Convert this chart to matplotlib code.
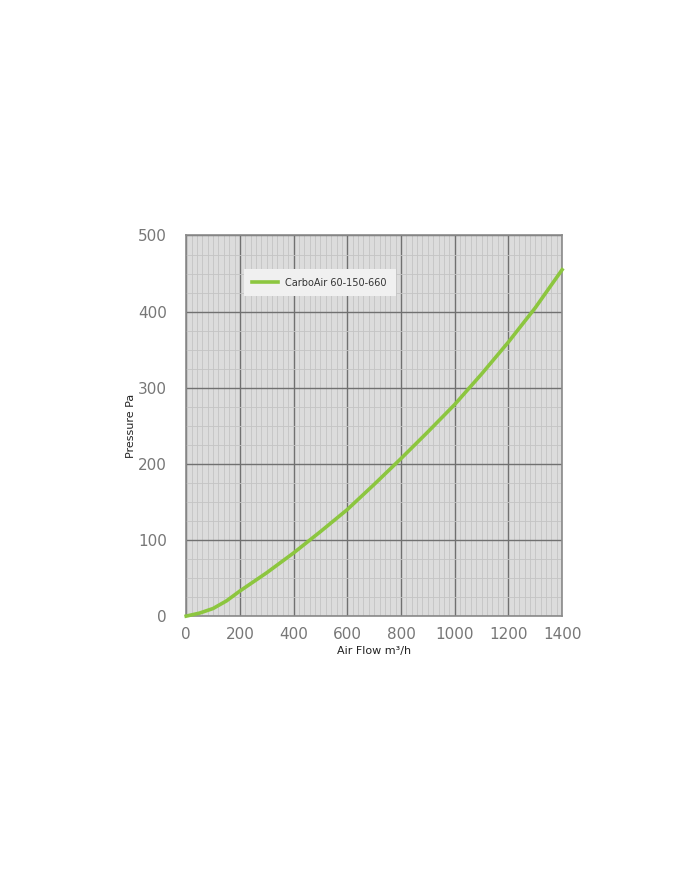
import numpy as np
import matplotlib.pyplot as plt
from matplotlib.ticker import MultipleLocator

# curve
air_flow = [0, 50, 100, 150, 200, 300, 400, 500, 600, 700, 800, 900, 1000, 1100, 1200, 1300, 1400]
pressure = [0, 4, 10, 20, 33, 57, 83, 111, 140, 173, 207, 242, 278, 318, 360, 405, 455]
series_name = "CarboAir 60-150-660"

x_ticks = [0, 200, 400, 600, 800, 1000, 1200, 1400]
y_ticks = [0, 100, 200, 300, 400, 500]

fig = plt.figure(figsize=(7, 8.69), dpi=100)
ax = fig.add_axes([0.266, 0.291, 0.537, 0.438])
ax.set_facecolor('#dcdcdc')

ax.set_xlim(0, 1400)
ax.set_ylim(0, 500)
ax.set_xticks(x_ticks)
ax.set_yticks(y_ticks)
ax.xaxis.set_minor_locator(MultipleLocator(20))
ax.yaxis.set_minor_locator(MultipleLocator(25))

ax.grid(which='minor', color='#c4c4c4', lw=0.6)
ax.grid(which='major', color='#707070', lw=1.0)
ax.set_axisbelow(True)

for s in ax.spines.values():
    s.set_color('#8a8a8a')
    s.set_linewidth(1.2)

ax.tick_params(which='both', length=0, colors='#777777', labelsize=11, pad=8)
ax.tick_params(axis='y', pad=14)

ax.plot(air_flow, pressure, color='#8cc63f', lw=2.6, label=series_name, clip_on=False, zorder=3)

leg = ax.legend(loc='upper left', bbox_to_anchor=(0.14, 0.925), frameon=True, fancybox=False,
                fontsize=7, handlelength=2.6, borderpad=0.9, labelcolor='#333333')
leg.get_frame().set_facecolor('#f0f0f0')
leg.get_frame().set_edgecolor('none')
leg.get_frame().set_alpha(1)

ax.set_xlabel('Air Flow m³/h', fontsize=8, color='#222222', labelpad=3)
ax.set_ylabel('Pressure Pa', fontsize=8, color='#222222', labelpad=1)

fig.savefig('out.png', dpi=100)
